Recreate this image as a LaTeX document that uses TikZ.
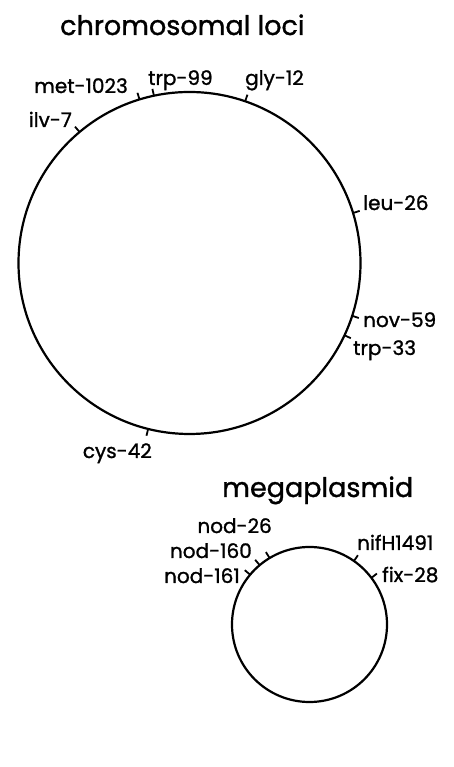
\documentclass[tikz,border=0pt]{standalone}
\usepackage{fontspec}
\setmainfont{Poppins}
\newfontfamily\heavyfont{Poppins}[FakeBold=1.2]
\begin{document}
\begin{tikzpicture}[x=1pt,y=1pt,
  ring/.style={circle,draw,line width=2.2pt,inner sep=0pt,outer sep=0pt},
  tick/.style={line width=1.8pt},
  lab/.style={inner sep=0pt,font=\heavyfont\fontsize{20}{20}\selectfont},
  ttl/.style={inner sep=0pt,font=\heavyfont\fontsize{27}{27}\selectfont}]
\useasboundingbox (0,0) rectangle (453,767);
% title
\node[ttl,anchor=base west] (t1) at (60,732) {chromosomal loci};
\node[ring,minimum size=342pt] (big) at (189.5,504) {};
% ticks big
\draw[tick] (big.130.7) -- ++(130.7:7) coordinate (k1);
\draw[tick] (big.107.1) -- ++(107.1:7) coordinate (k2);
\draw[tick] (big.102.8) -- ++(102.8:7) coordinate (k3);
\draw[tick] (big.71.3) -- ++(71.3:7) coordinate (k4);
\draw[tick] (big.17.7) -- ++(17.7:7) coordinate (k5);
\draw[tick] (big.-18.1) -- ++(-18.1:7) coordinate (k6);
\draw[tick] (big.-25.1) -- ++(-25.1:7) coordinate (k7);
\draw[tick] (big.256.3) -- ++(256.3:7) coordinate (k8);
\node[lab,anchor=base east] (l1) at (72,640) {ilv-7};
\node[lab,anchor=base east] (l2) at (128,674) {met-1023};
\node[lab,anchor=base west] (l3) at (148,682) {trp-99};
\node[lab,anchor=base west] (l4) at (245,682) {gly-12};
\node[lab,anchor=base west] (l5) at (363,557) {leu-26};
\node[lab,anchor=base west] (l6) at (363,440) {nov-59};
\node[lab,anchor=base west] (l7) at (353,412) {trp-33};
\node[lab,anchor=base east] (l8) at (152,309) {cys-42};
% megaplasmid
\node[ttl,anchor=base west] (t2) at (222,270) {megaplasmid};
\node[ring,minimum size=155pt] (small) at (309.5,142.5) {};
\draw[tick] (small.121.6) -- ++(121.6:7) coordinate (m1);
\draw[tick] (small.130.3) -- ++(130.3:7) coordinate (m2);
\draw[tick] (small.140) -- ++(140:7) coordinate (m3);
\draw[tick] (small.55.6) -- ++(55.6:7) coordinate (m4);
\draw[tick] (small.37.9) -- ++(37.9:7) coordinate (m5);
\node[lab,anchor=base east] (n1) at (272,234) {nod-26};
\node[lab,anchor=base east] (n2) at (252,209) {nod-160};
\node[lab,anchor=base east] (n3) at (240,184) {nod-161};
\node[lab,anchor=base west] (n4) at (357,217) {nifH1491};
\node[lab,anchor=base west] (n5) at (382,185) {fix-28};
\end{tikzpicture}
\end{document}
